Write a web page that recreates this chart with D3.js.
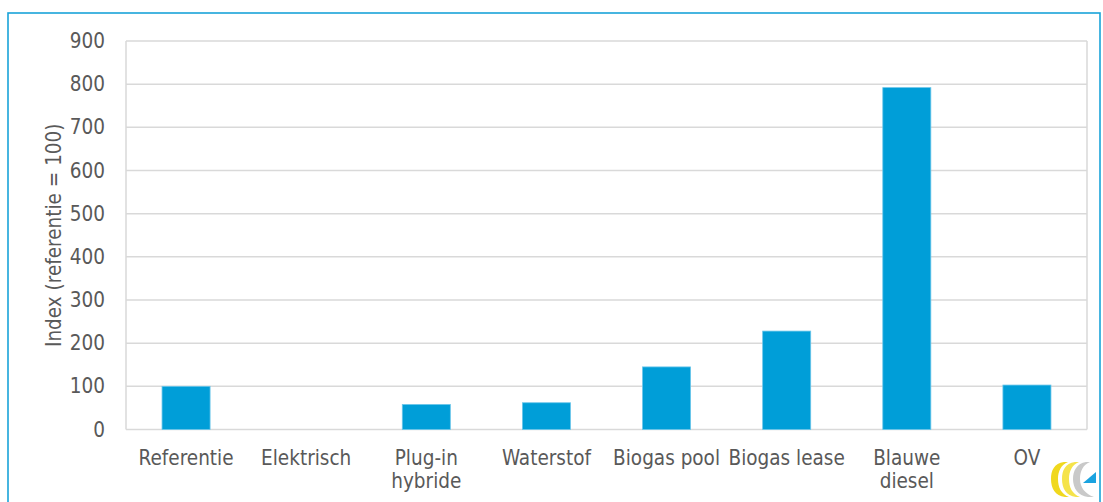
<!DOCTYPE html>
<html>
<head>
<meta charset="utf-8">
<script src="https://cdn.jsdelivr.net/npm/d3@7"></script>
<style>
  html, body { margin: 0; padding: 0; background: #fff; }
  svg { display: block; }
  text { font-family: "DejaVu Sans Condensed", "DejaVu Sans", sans-serif; font-stretch: condensed; fill: #595959; }
</style>
</head>
<body>
<svg id="chart" width="1103" height="502"></svg>
<script>
// Vehicle options, indexed against the reference case
const categories = [
  ["Referentie"],
  ["Elektrisch"],
  ["Plug-in", "hybride"],
  ["Waterstof"],
  ["Biogas pool"],
  ["Biogas lease"],
  ["Blauwe", "diesel"],
  ["OV"]
];
const indexValues = [100, 0, 58, 62, 145, 228, 792, 103];
const yTicks = [0, 100, 200, 300, 400, 500, 600, 700, 800, 900];
const yTitle = "Index (referentie = 100)";

const svg = d3.select("#chart");
const W = 1103, H = 502;
const plot = { left: 126, right: 1087, top: 41, bottom: 429.5 };
const fontSize = 20.5;

// frame around the figure
svg.append("rect")
  .attr("x", 8).attr("y", 13)
  .attr("width", W - 8 - 3).attr("height", H - 13 + 5)
  .attr("fill", "none").attr("stroke", "#1aa3d9").attr("stroke-width", 1.6);

const keys = categories.map(c => c.join(" "));
const x = d3.scaleBand().domain(keys).range([plot.left, plot.right]).paddingInner(0.6).paddingOuter(0.3);
const y = d3.scaleLinear().domain([0, 900]).range([plot.bottom, plot.top]);

// horizontal gridlines
svg.append("g").selectAll("line").data(yTicks).join("line")
  .attr("x1", plot.left).attr("x2", plot.right)
  .attr("y1", d => y(d)).attr("y2", d => y(d))
  .attr("stroke", "#d9d9d9").attr("stroke-width", 1.5);

// plot-area left/right edges
[plot.left, plot.right].forEach(px => {
  svg.append("line").attr("x1", px).attr("x2", px)
    .attr("y1", plot.top).attr("y2", plot.bottom)
    .attr("stroke", "#d9d9d9").attr("stroke-width", 1.5);
});

// y axis labels
const yAxis = d3.axisLeft(y).tickValues(yTicks).tickSize(0).tickPadding(0).tickFormat(d3.format("d"));
const gy = svg.append("g").attr("transform", `translate(${105},0)`).call(yAxis);
gy.select(".domain").remove();
gy.selectAll("text").attr("font-size", fontSize).attr("fill", "#595959")
  .style("font-family", '"DejaVu Sans Condensed", "DejaVu Sans", sans-serif');

// y axis title
svg.append("text")
  .attr("transform", `translate(55,${(plot.top + plot.bottom) / 2}) rotate(-90)`)
  .attr("text-anchor", "middle").attr("dominant-baseline", "middle")
  .attr("font-size", fontSize)
  .text(yTitle);

// bars
svg.append("g").selectAll("rect").data(indexValues).join("rect")
  .attr("x", (d, i) => x(keys[i]))
  .attr("width", x.bandwidth())
  .attr("y", d => y(d))
  .attr("height", d => y(0) - y(d))
  .attr("fill", "#009ed8")
  .attr("stroke", d => d > 0 ? "#6cc6ea" : "none")
  .attr("stroke-width", 0.8);

// category labels
const xl = svg.append("g").selectAll("text").data(categories).join("text")
  .attr("x", (d, i) => x(keys[i]) + x.bandwidth() / 2)
  .attr("y", 465)
  .attr("text-anchor", "middle")
  .attr("font-size", fontSize);
xl.selectAll("tspan").data(d => d).join("tspan")
  .attr("x", function () { return this.parentNode.getAttribute("x"); })
  .attr("dy", (d, i) => i === 0 ? 0 : 23)
  .text(d => d);

// small logo in the bottom-right corner
const logo = svg.append("g").attr("transform", "translate(1050,460)");
// two yellow ribbons
logo.append("path")
  .attr("d", "M14,2 C4,3 1,11 1,19 C1,28 5,36 15,37 L19,37 C11,34 8,27 8,19 C8,11 11,5 18,2 Z")
  .attr("fill", "#f0d81e");
logo.append("path")
  .attr("d", "M25,2 C15,3 12,11 12,19 C12,28 16,36 26,37 L30,37 C22,34 19,27 19,19 C19,11 22,5 29,2 Z")
  .attr("fill", "#f5e34a");
// grey swirl
logo.append("path")
  .attr("d", "M36,2 C27,3 23,11 23,19 C23,28 28,36 38,37 L44,37 C35,34 30,27 30,19 C30,11 33,5 40,2 Z")
  .attr("fill", "#c9c9c9");
// blue arrow tip
logo.append("path")
  .attr("d", "M33,23 L46,12 L46,23 Z")
  .attr("fill", "#1aa3e0");
</script>
</body>
</html>
